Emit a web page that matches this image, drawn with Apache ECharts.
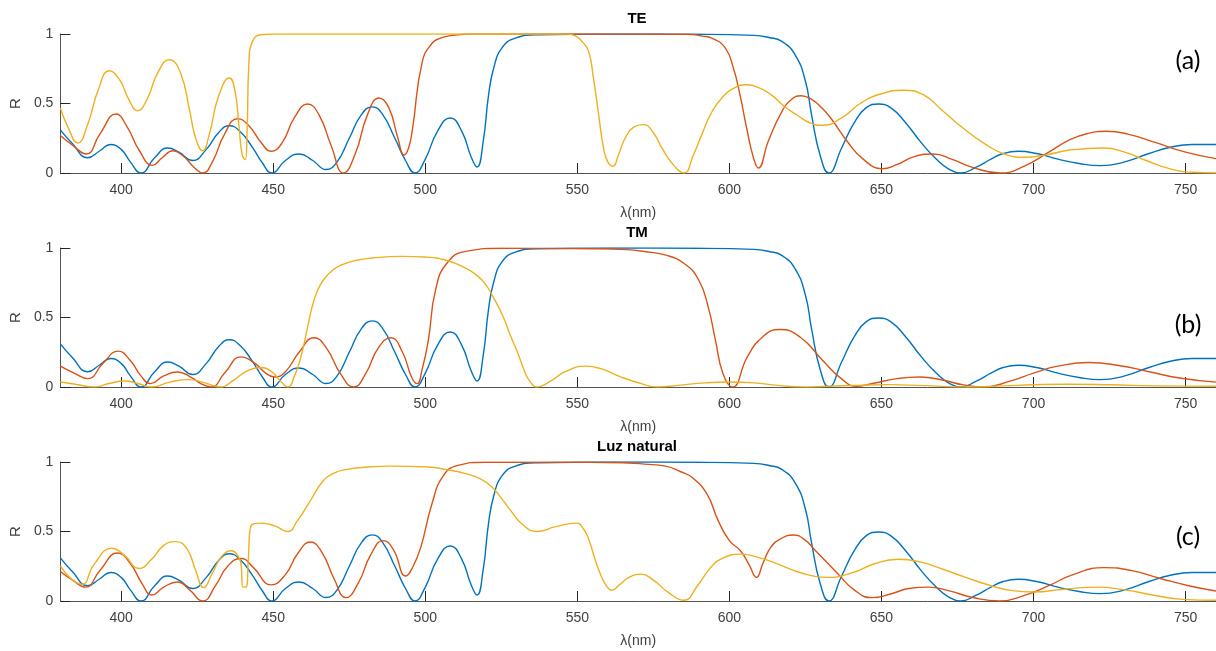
<!DOCTYPE html>
<html>
<head>
<meta charset="utf-8">
<title>Reflectancia TE / TM / Luz natural</title>
<script src="https://cdn.jsdelivr.net/npm/echarts@6/dist/echarts.min.js"></script>
<style>
  html, body { margin: 0; padding: 0; background: #fff; }
  #chart { width: 1216px; height: 651px; }
</style>
</head>
<body>
<div id="chart"></div>
<script>
// eje x (nm) y etiquetas
var xTicks = [400, 450, 500, 550, 600, 650, 700, 750]
var yTicks = [0, 0.5, 1]
var panelTitles = ['TE', 'TM', 'Luz natural']
var panelTags = ['(a)', '(b)', '(c)']

// curva azul (igual en los tres paneles)  [lambda, R]
var blueR = [[380,0.31],[384,0.21],[389,0.11],[393,0.16],[396.5,0.205],[400,0.17],[403,0.08],[406.5,0],[411,0.11],[415.3,0.18],[419,0.15],[423.5,0.09],[428,0.17],[432,0.29],[435.6,0.34],[439,0.3],[443,0.19],[446.5,0.07],[449.5,0],[454,0.09],[458.5,0.137],[463,0.09],[467.3,0.025],[471,0.08],[475,0.25],[479,0.42],[482.6,0.476],[486,0.42],[490,0.25],[493.5,0.09],[496.6,0],[500,0.1],[504,0.3],[508.2,0.396],[512,0.3],[515,0.12],[517,0.043],[519,0.22],[520.8,0.56],[522.5,0.755],[525.2,0.9],[529.6,0.97],[537,0.995],[560,1],[590,0.998],[608,0.99],[613,0.975],[617.2,0.947],[621.6,0.85],[625,0.66],[627,0.42],[629.8,0.13],[632.7,0],[636.9,0.18],[641,0.36],[645,0.47],[649,0.496],[653,0.47],[658,0.36],[663,0.22],[668,0.1],[672,0.03],[676,0],[681,0.04],[686,0.1],[690,0.14],[695,0.156],[701,0.14],[708,0.1],[715,0.068],[722,0.053],[730,0.08],[738,0.14],[745,0.185],[752,0.205],[760,0.205]]

// TE
var redTE = [[380,0.27],[384,0.2],[388.5,0.137],[393,0.28],[398.3,0.424],[402,0.33],[406,0.16],[410.3,0.055],[413.5,0.11],[417,0.16],[420.5,0.12],[424,0.04],[426.8,0],[430,0.08],[434,0.28],[438.3,0.39],[442,0.34],[446,0.22],[449.3,0.156],[453,0.22],[457,0.4],[461.3,0.496],[465,0.42],[469,0.2],[473.1,0],[477,0.14],[481,0.42],[484.8,0.54],[488,0.47],[491,0.25],[493,0.13],[494.5,0.18],[495.8,0.32],[499,0.8],[502.3,0.935],[505,0.97],[509,0.99],[515.5,1],[586.5,0.998],[591,0.985],[594.2,0.97],[598.6,0.9],[601.3,0.755],[603.5,0.56],[605.7,0.32],[607.9,0.11],[609.5,0.036],[612.8,0.23],[617.2,0.44],[620.5,0.53],[623.5,0.556],[627,0.53],[630.3,0.47],[633.3,0.396],[638.7,0.228],[644,0.1],[650.2,0.031],[655,0.06],[661,0.12],[667,0.137],[673,0.1],[680,0.04],[689,0],[697,0.05],[705,0.15],[712,0.24],[718,0.285],[724,0.3],[731,0.28],[740,0.22],[750,0.15],[760,0.103]]
var yellowTE = [[380,0.468],[382.5,0.33],[385.7,0.216],[389,0.35],[392.5,0.6],[396.1,0.736],[399.5,0.67],[402.5,0.53],[405.4,0.448],[408.5,0.53],[412,0.72],[415.8,0.815],[419.5,0.72],[422.5,0.45],[424.5,0.25],[426.8,0.16],[429,0.28],[432,0.55],[435.6,0.683],[437.5,0.58],[438.8,0.32],[439.8,0.13],[440.8,0.096],[441.4,0.3],[442,0.8],[443.2,0.947],[446,0.995],[450,1],[547,1],[549.5,0.985],[551.5,0.947],[553.7,0.875],[555.3,0.68],[557,0.42],[558.6,0.18],[560,0.08],[561.7,0.048],[563.5,0.13],[565.7,0.25],[568.5,0.33],[571.7,0.348],[575,0.29],[577.8,0.18],[581.5,0.06],[585.1,0],[588,0.12],[590.9,0.276],[594,0.43],[597.5,0.54],[601.5,0.61],[605.7,0.635],[610,0.61],[613.9,0.56],[618,0.48],[622.7,0.41],[626.5,0.36],[630.5,0.343],[636.9,0.396],[643,0.5],[650,0.57],[657.3,0.595],[664,0.56],[670,0.45],[677,0.32],[684,0.21],[690,0.14],[696.7,0.113],[704,0.13],[712,0.165],[722.9,0.18],[730,0.15],[737,0.09],[745,0.03],[752.4,0.005],[760,0]]

// TM
var redTM = [[380,0.15],[384.5,0.1],[389,0.06],[394,0.17],[399,0.258],[403,0.19],[406.5,0.08],[409.6,0.024],[414,0.08],[418.5,0.108],[423,0.07],[426.5,0.02],[429.6,0],[434,0.1],[439.4,0.217],[444,0.17],[447.5,0.1],[450.5,0.072],[454,0.11],[458.5,0.25],[463.4,0.354],[467.5,0.28],[472,0.1],[476.4,0],[480.5,0.1],[484.5,0.28],[488.7,0.354],[492.5,0.25],[495.5,0.07],[497.3,0.024],[499,0.13],[501,0.337],[503.4,0.7],[507.1,0.89],[513.3,0.976],[525.6,0.998],[555,0.995],[566.4,0.988],[572,0.975],[578.8,0.95],[585,0.89],[589.9,0.77],[593,0.578],[595.4,0.337],[597.9,0.096],[601,0],[605.9,0.217],[610.9,0.36],[616.4,0.414],[623.2,0.36],[630.6,0.193],[636.8,0.06],[641.7,0.005],[647,0.025],[655,0.06],[662.7,0.072],[670,0.05],[677,0.015],[683.7,0],[692,0.04],[700,0.1],[708,0.15],[718.3,0.176],[728,0.155],[738,0.11],[748,0.065],[760,0.035]]
var yellowTM = [[380,0.036],[385,0.02],[391.4,0],[396,0.025],[401.2,0.043],[405.5,0.025],[409.9,0],[416,0.035],[422.2,0.053],[427.5,0.03],[432.6,0],[437,0.05],[441,0.11],[445.6,0.14],[449.5,0.11],[452.5,0.04],[454.8,0],[457,0.08],[459.1,0.217],[461,0.4],[462.8,0.578],[464.5,0.69],[466.5,0.77],[469.5,0.84],[472.7,0.88],[477,0.91],[482.5,0.928],[492.4,0.94],[500,0.935],[507.1,0.91],[513.3,0.855],[516.5,0.81],[519.5,0.747],[522.5,0.64],[525.6,0.506],[528,0.37],[530.5,0.24],[532.5,0.12],[534.2,0.048],[536.7,0],[541,0.04],[546,0.11],[552.7,0.15],[558,0.13],[564,0.075],[571,0.024],[576.3,0],[583,0.012],[592,0.03],[600,0.036],[608,0.03],[616,0.012],[624.4,0],[632,0.005],[642,0.012],[652.8,0.017],[664,0.01],[677.5,0],[690,0.008],[700,0.016],[710.9,0.02],[725,0.016],[740,0.008],[760,0.005]]

// Luz natural
var redNat = [[380,0.212],[384,0.15],[388.3,0.1],[393,0.22],[398.8,0.345],[403,0.27],[407,0.12],[410.1,0.043],[414,0.1],[418.5,0.137],[422.5,0.08],[426.8,0],[431,0.11],[435,0.25],[439.4,0.306],[443.5,0.24],[449.3,0.116],[454,0.19],[458,0.34],[462.2,0.424],[466,0.35],[470,0.16],[473.9,0.024],[478,0.13],[482,0.33],[486.2,0.434],[489.5,0.37],[493.6,0.18],[496,0.25],[498.5,0.386],[502.2,0.7],[505.9,0.9],[510.8,0.976],[519.5,0.998],[555,0.998],[566.7,0.993],[572,0.985],[579,0.97],[584,0.93],[587.7,0.89],[592.6,0.77],[596.3,0.578],[600,0.434],[603.7,0.36],[606.5,0.26],[608.9,0.17],[611,0.27],[613.6,0.386],[617,0.45],[621,0.475],[624.5,0.445],[628.4,0.36],[635.8,0.193],[641,0.08],[646.9,0.024],[653,0.05],[659,0.09],[665.4,0.1],[672,0.075],[680,0.025],[688.8,0],[697,0.04],[705,0.11],[713,0.19],[723.3,0.24],[732,0.22],[742,0.16],[751,0.11],[760,0.072]]
var yellowNat = [[380,0.253],[383.5,0.16],[387.1,0.12],[391,0.26],[396.9,0.38],[401,0.33],[405.9,0.234],[410,0.3],[414,0.4],[417.9,0.427],[421.5,0.38],[424.5,0.22],[427.1,0.096],[430,0.2],[433,0.32],[436.3,0.361],[438.5,0.32],[439.4,0.265],[440,0.1],[441,0.1],[441.8,0.3],[442.5,0.53],[446.2,0.56],[450.5,0.54],[454.8,0.5],[458,0.58],[461.6,0.7],[466.5,0.867],[470,0.92],[473.9,0.945],[480,0.962],[488.7,0.97],[501,0.964],[507,0.945],[513.3,0.916],[518,0.88],[521.9,0.82],[525,0.74],[528.1,0.65],[532,0.55],[536.7,0.5],[542.9,0.535],[549.6,0.56],[552,0.52],[553.9,0.434],[555.8,0.3],[557.6,0.193],[559.5,0.11],[561.3,0.077],[564,0.12],[567,0.17],[571,0.193],[575,0.15],[580,0.06],[585,0.005],[589.5,0.11],[593.8,0.24],[598,0.31],[603.7,0.337],[610,0.31],[616,0.265],[624,0.2],[632.1,0.17],[640,0.2],[648,0.27],[655.5,0.3],[663,0.28],[670,0.23],[677.7,0.17],[686,0.11],[693,0.075],[700,0.065],[710,0.085],[720.8,0.1],[730,0.08],[740,0.04],[749,0.012],[760,0.005]]

var panels = [
  [blueR, redTE, yellowTE],
  [blueR, redTM, yellowTM],
  [blueR, redNat, yellowNat]
]
var colors = ['#0072BD', '#D95319', '#EDB120']
var gridTops = [34, 248, 462]
var tagY = [61, 325, 537]
var axisColor = '#404040'
var font = '"Liberation Sans", Arial, sans-serif'

var chart = echarts.init(document.getElementById('chart'), null, { renderer: 'canvas' })

var grids = [], xAxes = [], yAxes = [], series = [], graphics = []
panels.forEach(function(p, i) {
  grids.push({ left: 57.5, right: 0, top: gridTops[i], height: 139 })
  xAxes.push({
    gridIndex: i,
    type: 'value',
    min: 380,
    max: 760,
    name: 'λ(nm)',
    nameLocation: 'middle',
    nameGap: 33,
    nameTextStyle: { color: axisColor, fontSize: 14, fontFamily: font },
    axisLine: { show: true, lineStyle: { color: '#555', width: 1 } },
    axisTick: { show: true, inside: true, length: 10, customValues: xTicks, lineStyle: { color: '#262626' } },
    axisLabel: { customValues: xTicks, color: axisColor, fontSize: 14, fontFamily: font, margin: 10 },
    splitLine: { show: false }
  })
  yAxes.push({
    gridIndex: i,
    type: 'value',
    min: 0,
    max: 1,
    interval: 0.5,
    name: 'R',
    nameLocation: 'middle',
    nameGap: 32,
    nameTextStyle: { color: axisColor, fontSize: 15, fontFamily: font },
    axisLine: { show: true, lineStyle: { color: '#555', width: 1 } },
    axisTick: { show: true, inside: true, length: 10, customValues: yTicks, lineStyle: { color: '#262626' } },
    axisLabel: { customValues: yTicks, color: axisColor, fontSize: 14, fontFamily: font, margin: 7 },
    splitLine: { show: false }
  })
  p.forEach(function(d, k) {
    series.push({
      type: 'line',
      xAxisIndex: i,
      yAxisIndex: i,
      data: d,
      showSymbol: false,
      smooth: 0.5,
      lineStyle: { color: colors[k], width: 1.4 },
      itemStyle: { color: colors[k] },
      z: 2 + k
    })
  })
  graphics.push({
    type: 'text',
    x: 637,
    y: gridTops[i] - 15,
    style: { text: panelTitles[i], fill: '#000', font: 'bold 15px ' + font, textAlign: 'center', textVerticalAlign: 'middle' }
  })
  graphics.push({
    type: 'text',
    x: 1188,
    y: tagY[i],
    style: { text: panelTags[i], fill: '#000', font: '25px Lato, "Open Sans", sans-serif', textAlign: 'center', textVerticalAlign: 'middle' }
  })
})

chart.setOption({
  animation: false,
  backgroundColor: '#fff',
  grid: grids,
  xAxis: xAxes,
  yAxis: yAxes,
  series: series,
  graphic: graphics
})
</script>
</body>
</html>
